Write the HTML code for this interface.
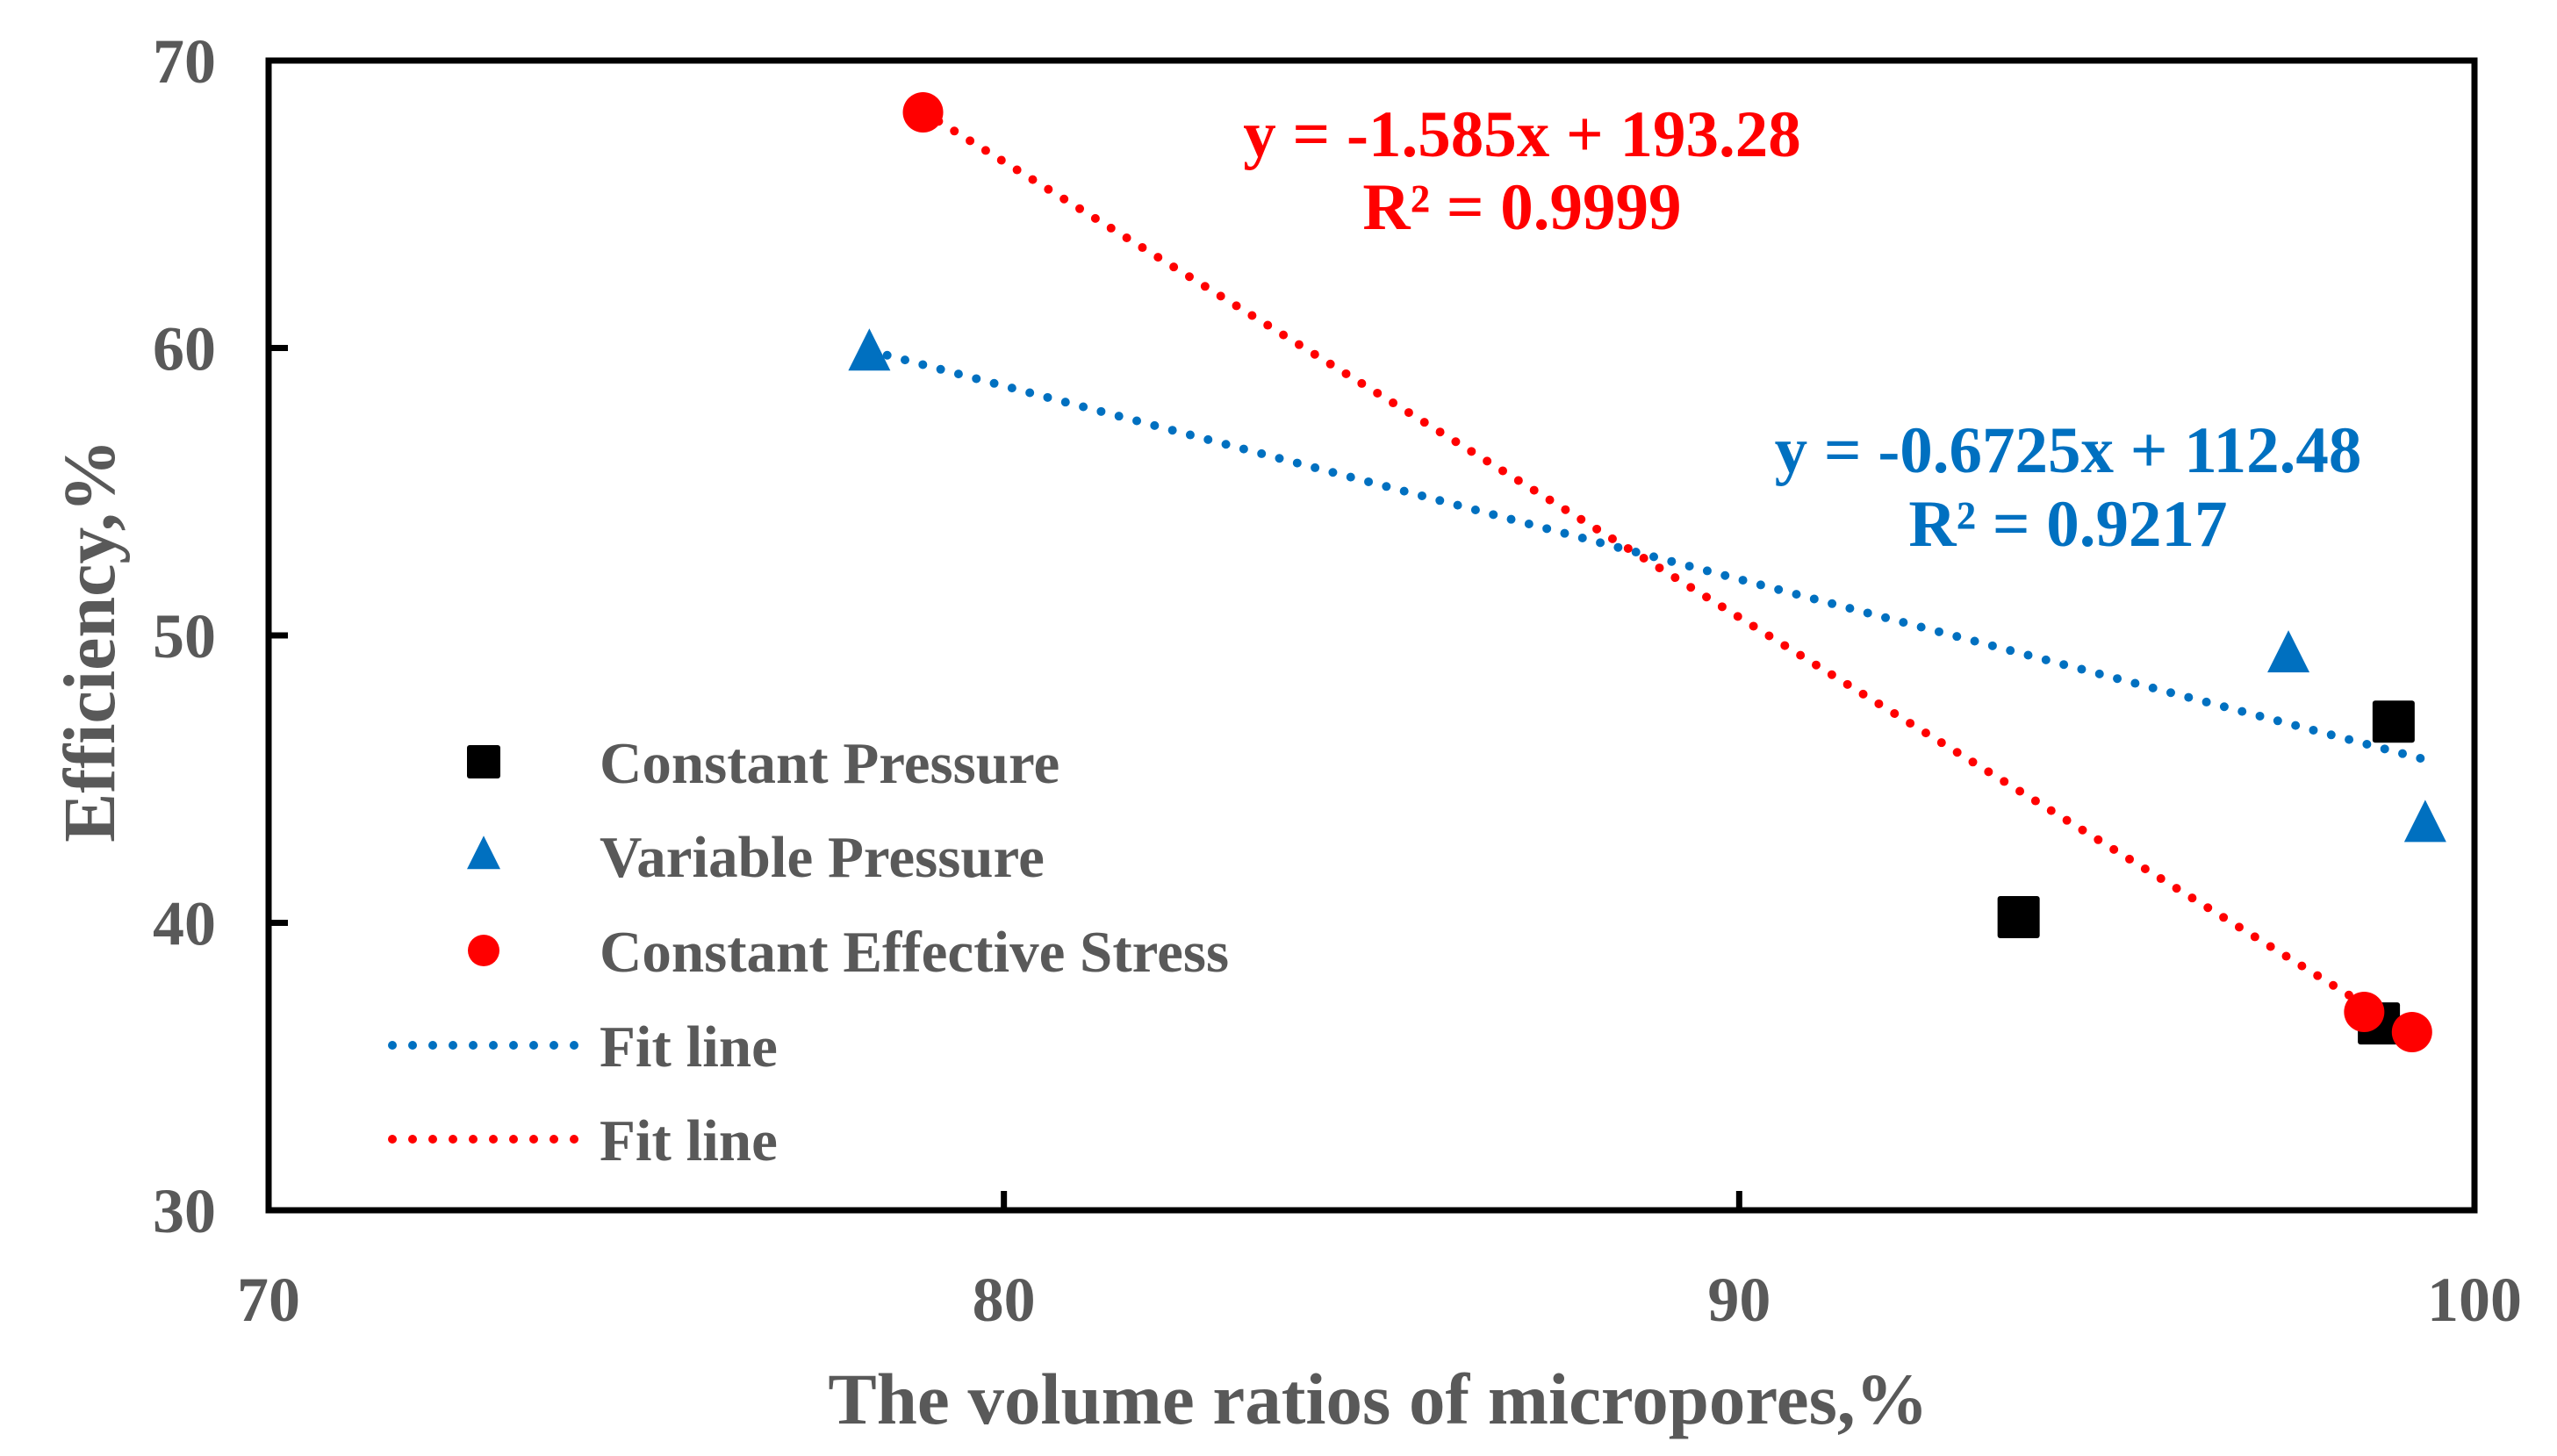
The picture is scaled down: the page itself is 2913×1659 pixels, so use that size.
<!DOCTYPE html>
<html><head><meta charset="utf-8"><style>
html,body{margin:0;padding:0;background:#fff;}
svg{display:block;}
text{font-family:"Liberation Serif",serif;font-weight:bold;}
</style></head><body>
<svg id="chart" width="2913" height="1659" viewBox="0 0 2913 1659" xmlns="http://www.w3.org/2000/svg">
<g id="grid"></g>
<g id="marks"></g>
<g id="labels"></g>
</svg>
<script>
const xTicks = [70, 80, 90, 100];
const yTicks = [30, 40, 50, 60, 70];
const cpX = [98.9, 93.8, 98.7];
const cpY = [47.0, 40.2, 36.5];
const vpX = [78.17, 97.47, 99.33];
const vpY = [59.8, 49.3, 43.4];
const cesX = [78.9, 98.5, 99.15];
const cesY = [68.2, 36.9, 36.2];
const redFit = [-1.585, 193.28];
const blueFit = [-0.6725, 112.48];
const redFitRange = [78.9, 99.15];
const blueFitRange = [78.17, 99.33];

const L=306,R=2819,T=69,B=1379;
const sx=v=>L+(v-70)/30*(R-L);
const sy=v=>B-(v-30)/40*(B-T);
const NS='http://www.w3.org/2000/svg';
function mk(tag,attrs,parent,txt){const e=document.createElementNS(NS,tag);for(const k in attrs)e.setAttribute(k,attrs[k]);if(txt!==undefined)e.textContent=txt;parent.appendChild(e);return e;}
const grid=document.getElementById('grid'),marks=document.getElementById('marks'),labels=document.getElementById('labels');
const GREY='#595959';

let frame=mk('rect',{x:L,y:T,width:R-L,height:B-T,fill:'none',stroke:'#000','stroke-width':7},grid);



xTicks.forEach(v=>{
  if(v>70&&v<100){const t=mk('line',{x1:sx(v),x2:sx(v),y1:B,y2:B-22,stroke:'#000','stroke-width':7},grid);
  
  }
  const l=mk('text',{x:sx(v),y:1505,'text-anchor':'middle','font-size':72,fill:GREY},labels,String(v));
  
  
});
yTicks.forEach(v=>{
  if(v>30&&v<70){const t=mk('line',{x1:L,x2:L+22,y1:sy(v),y2:sy(v),stroke:'#000','stroke-width':7},grid);
  
  }
  const l=mk('text',{x:246,y:sy(v)+25,'text-anchor':'end','font-size':72,fill:GREY},labels,String(v));
  
  
});

function fitLine(coef,range,color,name){
  const l=mk('line',{x1:sx(range[0]),y1:sy(coef[0]*range[0]+coef[1]),x2:sx(range[1]),y2:sy(coef[0]*range[1]+coef[1]),stroke:color,'stroke-width':10,'stroke-linecap':'round','stroke-dasharray':'0 21'},marks);
  
  
}
fitLine(blueFit,blueFitRange,'#0070C0','blue-fit-line');
fitLine(redFit,redFitRange,'#FF0000','red-fit-line');

function square(x,y,s,name){const e=mk('rect',{x:x-s/2,y:y-s/2,width:s,height:s,fill:'#000',rx:3},marks);
  
  }
function tri(x,y,s,name){const h=s*1.0;const e=mk('polygon',{points:`${x},${y-h*0.6} ${x+s/2},${y+h*0.4} ${x-s/2},${y+h*0.4}`,fill:'#0070C0'},marks);
  
  }
function circ(x,y,r,name){const e=mk('circle',{cx:x,cy:y,r:r,fill:'#FF0000'},marks);
  
  }

cpX.forEach((v,i)=>square(sx(v),sy(cpY[i]),48,'constant-pressure-point'));
vpX.forEach((v,i)=>tri(sx(v),sy(vpY[i]),48,'variable-pressure-point'));
cesX.forEach((v,i)=>circ(sx(v),sy(cesY[i]),23,'constant-effective-stress-point'));

const lx=551, rows=[868,975,1083,1191,1298], tx=683;
square(lx,rows[0],38,'legend-square-marker');
tri(lx,rows[1],38,'legend-triangle-marker');
circ(lx,rows[2],18,'legend-circle-marker');
[['#0070C0',rows[3],'legend-blue-line'],['#FF0000',rows[4],'legend-red-line']].forEach(a=>{
  const l=mk('line',{x1:447,x2:657,y1:a[1],y2:a[1],stroke:a[0],'stroke-width':10,'stroke-linecap':'round','stroke-dasharray':'0 23'},marks);
  
  
});
const legTexts=['Constant Pressure','Variable Pressure','Constant Effective Stress','Fit line','Fit line'];
legTexts.forEach((s,i)=>{const t=mk('text',{x:tx,y:rows[i]+24,'font-size':67,fill:GREY},labels,s);
  
  });

function eq(x,y,s,c,n){const t=mk('text',{x:x,y:y,'text-anchor':'middle','font-size':75,fill:c},labels,s);
  
  }
eq(1734,178,'y = -1.585x + 193.28','#FF0000','red-equation');
eq(1734,261,'R² = 0.9999','#FF0000','red-r-squared');
eq(2356,538,'y = -0.6725x + 112.48','#0070C0','blue-equation');
eq(2356,622,'R² = 0.9217','#0070C0','blue-r-squared');

const xt=mk('text',{x:1570,y:1622,'text-anchor':'middle','font-size':83,fill:GREY},labels,'The volume ratios of micropores,%');


const yt=mk('text',{x:0,y:0,'text-anchor':'middle','font-size':84,fill:GREY,transform:'translate(130,730) rotate(-90)'},labels,'Efficiency,%');


</script>
</body></html>
